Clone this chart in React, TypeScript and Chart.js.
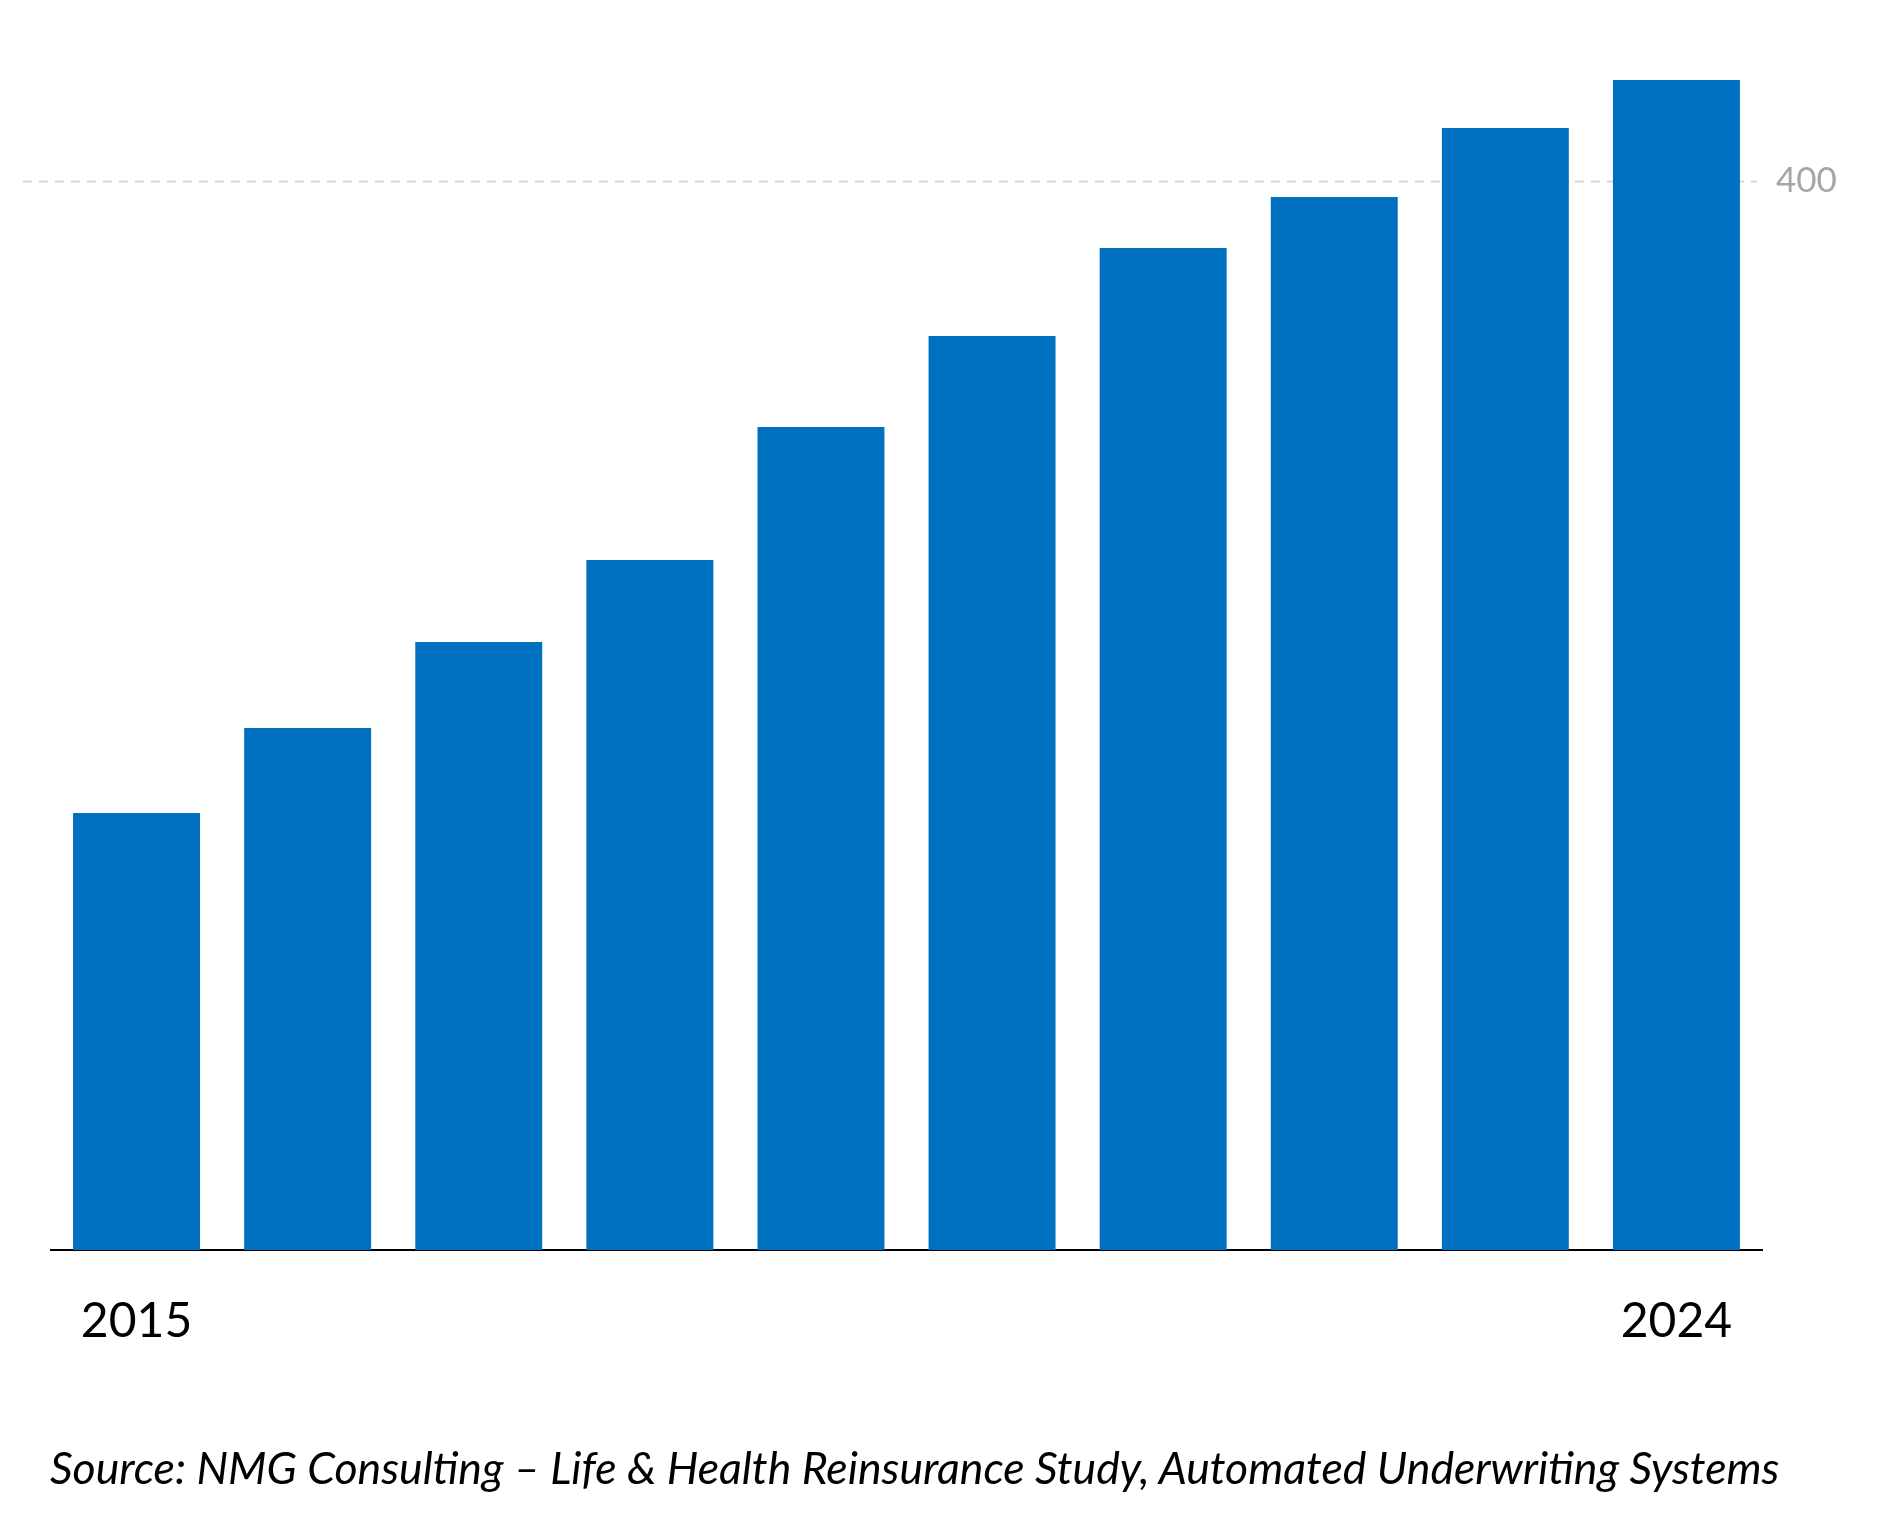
import React, { useEffect, useRef } from "react";
import { Chart, registerables } from "chart.js";

Chart.register(...registerables);

const years = ["2015", "2016", "2017", "2018", "2019", "2020", "2021", "2022", "2023", "2024"];
const values = [163.5, 195.3, 227.4, 258.1, 307.9, 341.9, 374.8, 393.9, 419.7, 437.7];
const yTickValues = [400];
const shownYearIdx = [0, 9];
const sourceText = "Source: NMG Consulting \u2013 Life & Health Reinsurance Study, Automated Underwriting Systems";

const gridPlugin = {
  id: "extGrid",
  beforeDatasetsDraw(chart: any) {
    const { ctx } = chart;
    const y = chart.scales.y;
    ctx.save();
    ctx.strokeStyle = "#d6d6d6";
    ctx.lineWidth = 2;
    ctx.setLineDash([9, 7]);
    yTickValues.forEach((v) => {
      const py = Math.round(y.getPixelForValue(v)) + 0.5;
      ctx.beginPath();
      ctx.moveTo(23, py);
      ctx.lineTo(1757, py);
      ctx.stroke();
    });
    ctx.restore();
  },
};

export default function App() {
  const ref = useRef<HTMLCanvasElement | null>(null);
  useEffect(() => {
    if (!ref.current) return;
    const chart = new Chart(ref.current, {
      type: "bar",
      data: {
        labels: years,
        datasets: [
          {
            data: values,
            backgroundColor: "#0070c0",
            borderWidth: 0,
            categoryPercentage: 1,
            barPercentage: 0.742,
          },
        ],
      },
      options: {
        animation: false,
        responsive: false,
        maintainAspectRatio: false,
        layout: { padding: { left: 51, right: 0, top: 47, bottom: 0 } },
        plugins: { legend: { display: false }, tooltip: { enabled: false }, title: { display: false } },
        scales: {
          x: {
            grid: { display: false },
            border: { display: true, color: "#000000", width: 2 },
            ticks: {
              autoSkip: false,
              maxRotation: 0,
              padding: 35,
              color: "#000000",
              font: { family: "Lato", size: 48 },
              callback: (_v: any, i: number) => (shownYearIdx.includes(i) ? years[i] : ""),
            },
            afterFit: (s: any) => {
              s.height = 273;
            },
          },
          y: {
            position: "right",
            min: 0,
            max: 450,
            grid: { display: false },
            border: { display: false },
            afterBuildTicks: (s: any) => {
              s.ticks = yTickValues.map((v) => ({ value: v }));
            },
            ticks: {
              padding: 6,
              color: "#a6a6a6",
              font: { family: "Lato", size: 35 },
            },
            afterFit: (s: any) => {
              s.width = 141;
            },
          },
        },
      },
      plugins: [gridPlugin],
    });
    return () => chart.destroy();
  }, []);
  return (
    <div style={{ position: "absolute", left: 0, top: 0, width: 1903, height: 1523, background: "#fff" }}>
      <canvas ref={ref} width={1903} height={1523} style={{ position: "absolute", left: 0, top: 0, width: 1903, height: 1523 }} />
      <div
        style={{
          position: "absolute",
          left: 50,
          top: 1445,
          fontFamily: "Lato",
          fontStyle: "italic",
          fontSize: 44.6,
          lineHeight: "44px",
          color: "#000",
          whiteSpace: "nowrap",
        }}
      >
        {sourceText}
      </div>
    </div>
  );
}
